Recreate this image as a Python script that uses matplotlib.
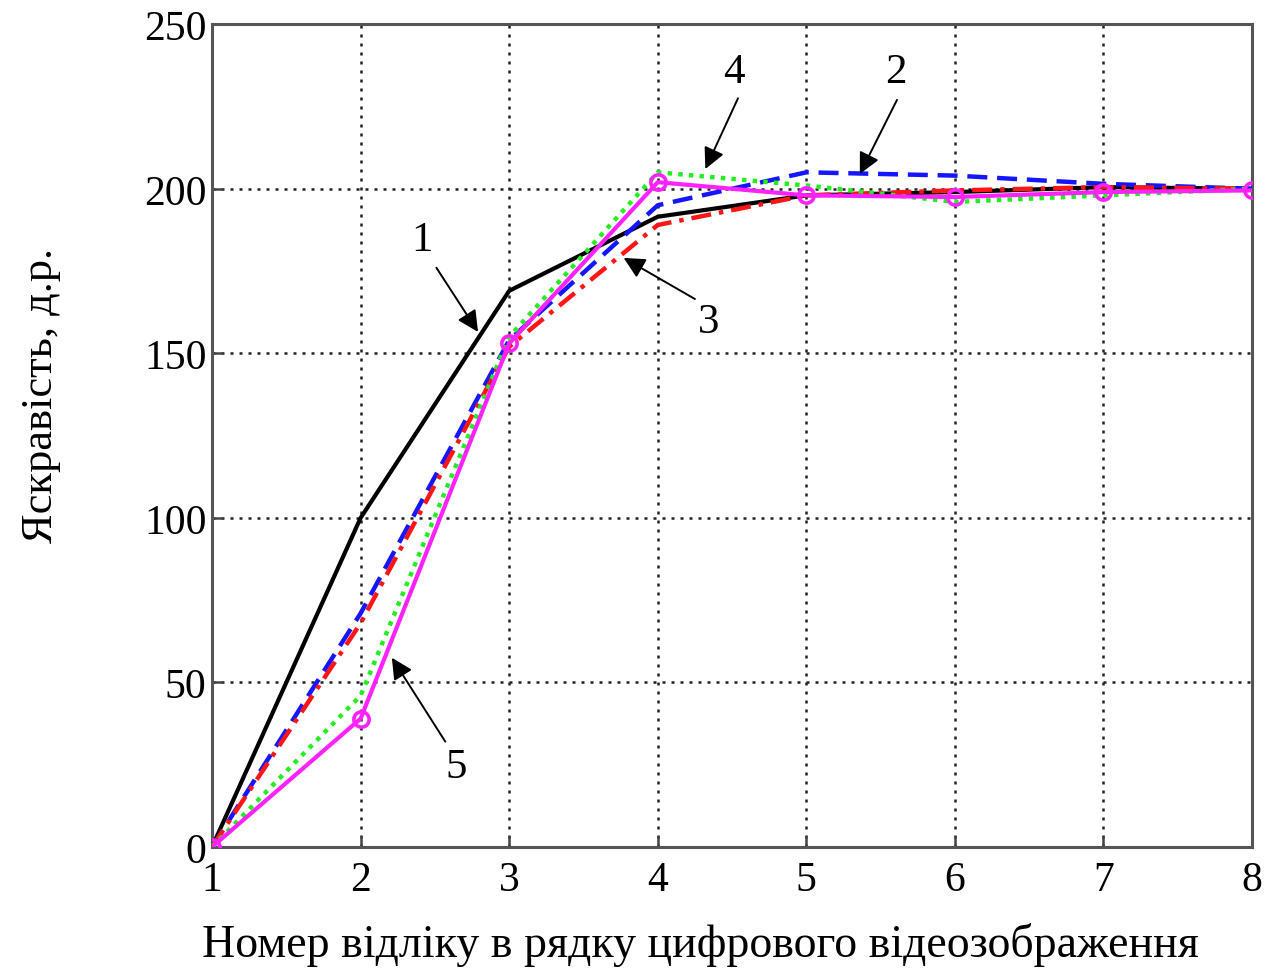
import matplotlib.pyplot as plt
import numpy as np

# Дані
x = [1, 2, 3, 4, 5, 6, 7, 8]
curve1 = [0, 100, 169, 191.5, 198, 199, 200.5, 200]
curve2 = [0, 71, 154, 195, 205, 204, 201.5, 200]
curve3 = [0, 68, 152, 189, 198, 199.5, 200.5, 200]
curve4 = [0, 46, 155, 205, 201, 196, 198, 200]
curve5 = [0, 39, 153, 202, 198, 197.5, 199, 199.5]

# мітки кривих: (текст, позиція тексту, хвіст стрілки, кінець стрілки)
labels = ["1", "2", "3", "4", "5"]
label_xy = [(2.41, 184.5), (5.60, 235.5), (4.34, 159.5), (4.51, 235.5), (2.64, 24.5)]
tail_xy = [(2.51, 176), (5.61, 227), (4.25, 166.5), (4.54, 227.5), (2.57, 32)]
head_xy = [(2.79, 156.5), (5.36, 204.5), (3.77, 179), (4.32, 206), (2.21, 57.5)]

plt.rcParams['font.family'] = ['Liberation Serif', 'DejaVu Serif']

fig = plt.figure(figsize=(12.66, 9.7), dpi=100)
ax = fig.add_axes([0.1675, 0.1258, 0.8215, 0.8482])

ax.plot(x, curve1, color='black', lw=3, zorder=3)
ax.plot(x, curve2, color='#1515ff', lw=3.2, linestyle=(0, (4.5, 2.2)), zorder=3)
ax.plot(x, curve3, color='#ff1515', lw=3.2, linestyle=(0, (4.5, 1.8, 1, 1.8)), zorder=3)
ax.plot(x, curve4, color='#22ee22', lw=3.2, linestyle=(0, (1, 1.4)), zorder=3)
ax.plot(x, curve5, color='#ff22ff', lw=3, marker='o', markersize=11,
        markerfacecolor='none', markeredgewidth=2.6, zorder=4)

for txt, lxy, txy, hxy in zip(labels, label_xy, tail_xy, head_xy):
    ax.text(lxy[0], lxy[1], txt, fontsize=31, ha='center', va='center')
    ax.annotate('', xy=hxy, xytext=txy,
                arrowprops=dict(arrowstyle='-|>', color='black', lw=1.4,
                                mutation_scale=32, shrinkA=0, shrinkB=0))

ax.set_xlim(1, 8)
ax.set_ylim(0, 250)
ax.set_xticks(range(1, 9))
ax.set_yticks(range(0, 251, 50))
ax.grid(True, color='#222222', linestyle=(0, (1.2, 2.4)), lw=1.8)
ax.tick_params(direction='in', length=8, width=1.8, labelsize=30, colors='#444444',
               labelcolor='black')
ax.tick_params(axis='x', pad=10)
ax.tick_params(axis='y', pad=4)
for s in ax.spines.values():
    s.set_linewidth(2.2)
    s.set_color('#555555')

# підпис осі X розміщено на рівні фігури, щоб не обрізався
fig.text(0.553, 0.0135, 'Номер відліку в рядку цифрового відеозображення',
         fontsize=33, ha='center', va='baseline')
ax.set_ylabel('Яскравість, д.р.', fontsize=32)
ax.yaxis.set_label_coords(-0.145, 0.55)

fig.savefig('out.png', dpi=100)
